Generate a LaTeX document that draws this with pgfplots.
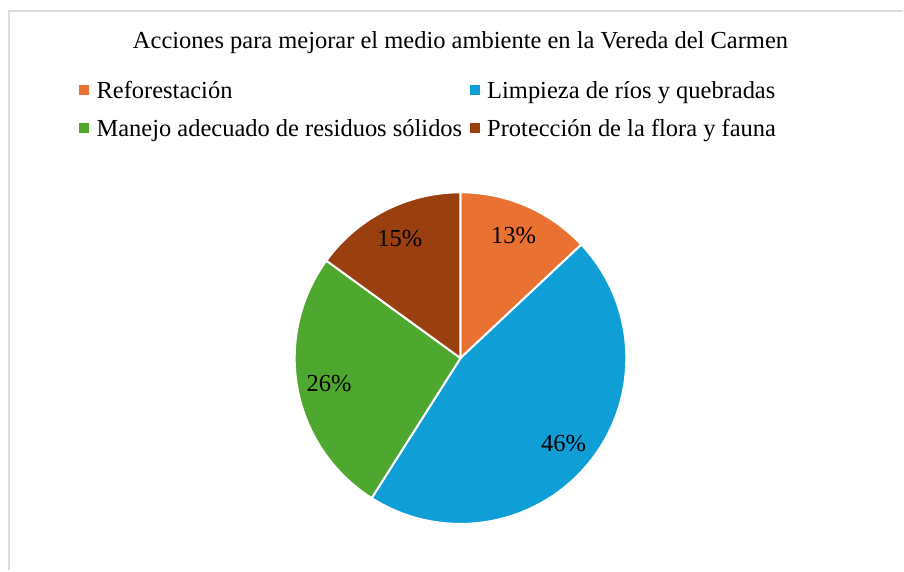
\documentclass[border=0pt]{standalone}
\usepackage{pgfplots}
\usepackage{pgfplotstable}
\pgfplotsset{compat=1.18}
\usepackage{fontspec}
\setmainfont{Liberation Serif}

\definecolor{cOrange}{HTML}{E97132}
\definecolor{cBlue}{HTML}{0F9ED5}
\definecolor{cGreen}{HTML}{4EA72E}
\definecolor{cBrown}{HTML}{9A3F10}
\definecolor{cFrame}{HTML}{DCDCDC}

% porcentajes del gráfico, en el orden del reloj desde arriba
\pgfplotstableread[col sep=comma]{
name,value,color
Reforestación,13,cOrange
Limpieza de ríos y quebradas,46,cBlue
Manejo adecuado de residuos sólidos,26,cGreen
Protección de la flora y fauna,15,cBrown
}\piedata
\pgfplotstablecreatecol[create col/expr accum={\pgfmathaccuma + \thisrow{value}}{0}]{cum}\piedata

\newcommand{\bigfont}{\fontsize{24.5bp}{29bp}\selectfont}

\begin{document}
\begin{tikzpicture}
\begin{axis}[
    scale only axis,
    width=904bp, height=571bp,
    xmin=0, xmax=904, ymin=-571, ymax=0,
    hide axis, clip=false,
    legend columns=2,
    legend cell align=left,
    legend image code/.code={\path[#1] (0bp,-3bp) rectangle (10bp,7bp); \path (10bp,0bp) -- (13bp,0bp);},
    legend style={
        at={(axis cs:79,-80)}, anchor=north west,
        draw=none, fill=none, inner sep=0pt,
        font=\bigfont,
        nodes={inner xsep=4.5bp, inner ysep=0bp, text height=18bp, text depth=6bp},
        row sep=14bp,
        /tikz/every even column/.append style={column sep=3bp},
    },
]
\path (axis cs:0,0) rectangle (axis cs:904,-571);
\draw[cFrame, line width=2bp] (axis cs:9,-571) -- (axis cs:9,-11) -- (axis cs:904,-11);
\node[font=\bigfont, anchor=base] at (axis cs:461,-49) {Acciones para mejorar el medio ambiente en la Vereda del Carmen};

\pgfplotsinvokeforeach{0,1,2,3}{
  \pgfplotstablegetelem{#1}{value}\of\piedata \let\sv\pgfplotsretval
  \pgfplotstablegetelem{#1}{cum}\of\piedata \let\sc\pgfplotsretval
  \pgfplotstablegetelem{#1}{color}\of\piedata \let\scol\pgfplotsretval
  \pgfmathsetmacro\aend{90-3.6*\sc}
  \pgfmathsetmacro\astart{\aend+3.6*\sv}
  \pgfmathsetmacro\amid{(\astart+\aend)/2}
  \edef\temp{%
    \noexpand\fill[\scol, draw=white, line width=2bp, line join=round]
      (axis cs:461,-358.5) -- ++(\astart:166bp)
      arc[start angle=\astart, end angle=\aend, radius=166bp] -- cycle;
    \noexpand\path (axis cs:461,-358.5) ++(\amid:134bp)
      node[font=\noexpand\bigfont] {\sv\noexpand\%};
  }\temp
}

\addlegendimage{fill=cOrange, draw=none}
\addlegendentry{Reforestación}
\addlegendimage{fill=cBlue, draw=none}
\addlegendentry{Limpieza de ríos y quebradas}
\addlegendimage{fill=cGreen, draw=none}
\addlegendentry{Manejo adecuado de residuos sólidos}
\addlegendimage{fill=cBrown, draw=none}
\addlegendentry{Protección de la flora y fauna}
\end{axis}
\end{tikzpicture}
\end{document}
